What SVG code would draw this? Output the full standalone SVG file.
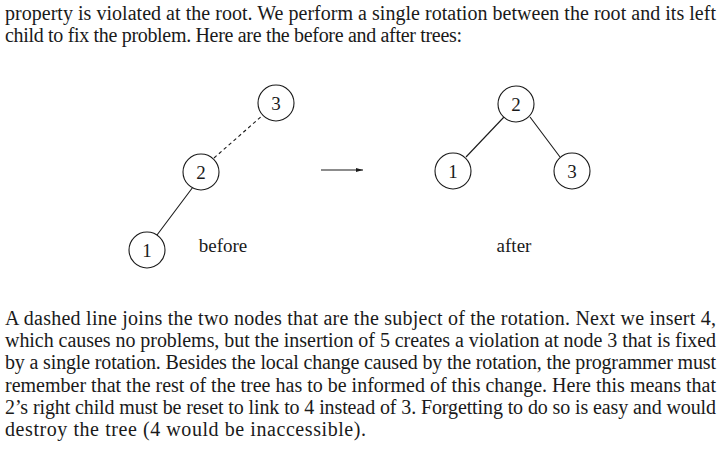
<svg xmlns="http://www.w3.org/2000/svg" width="721" height="464" viewBox="0 0 721 464">
<style>
  .t { font-family: "Liberation Serif", "Times New Roman", serif; font-size: 20px; fill: #1a1a1a; }
  .n { font-family: "Liberation Serif", "Times New Roman", serif; font-size: 19px; fill: #1a1a1a; text-anchor: middle; }
  .c { fill: #ffffff; stroke: #1a1a1a; stroke-width: 1.1; }
  .e { stroke: #1a1a1a; stroke-width: 1.1; fill: none; }
  .d { stroke-dasharray: 3.5 3; }
</style>
<defs>
  <marker id="ah" markerWidth="8" markerHeight="6" refX="7" refY="3" orient="auto" markerUnits="userSpaceOnUse">
    <path d="M0,1 L7,3 L0,5 Z" fill="#1a1a1a"/>
  </marker>
</defs>
<rect width="721" height="464" fill="#ffffff"/>
<g id="para1">
  <text class="t" x="5" y="20" textLength="711" lengthAdjust="spacing">property is violated at the root. We perform a single rotation between the root and its left</text>
  <text class="t" x="5" y="42" textLength="457" lengthAdjust="spacing">child to fix the problem. Here are the before and after trees:</text>
</g>
<g id="connectors">
  <line class="e" x1="193" y1="187" x2="157" y2="235"/>
  <line class="e d" x1="214" y1="158" x2="263" y2="115"/>
  <line class="e" x1="321" y1="170" x2="363" y2="170" marker-end="url(#ah)"/>
  <line class="e" x1="504" y1="117" x2="466" y2="157"/>
  <line class="e" x1="530" y1="117" x2="560" y2="157"/>
</g>
<g id="before-3"><circle class="c" cx="276" cy="103" r="18"/><text class="n" x="276" y="109.5">3</text></g>
<g id="before-2"><circle class="c" cx="201" cy="172" r="18"/><text class="n" x="201" y="178.5">2</text></g>
<g id="before-1"><circle class="c" cx="147" cy="250" r="18"/><text class="n" x="147" y="256.5">1</text></g>
<g id="label-before"><text class="n" x="223" y="252">before</text></g>
<g id="after-2"><circle class="c" cx="516" cy="104" r="18"/><text class="n" x="516" y="110.5">2</text></g>
<g id="after-1"><circle class="c" cx="453" cy="171" r="18"/><text class="n" x="453" y="177.5">1</text></g>
<g id="after-3"><circle class="c" cx="572" cy="171" r="18"/><text class="n" x="572" y="177.5">3</text></g>
<g id="label-after"><text class="n" x="514" y="252">after</text></g>
<g id="para2">
  <text class="t" x="5" y="325" textLength="711" lengthAdjust="spacing">A dashed line joins the two nodes that are the subject of the rotation. Next we insert 4,</text>
  <text class="t" x="5" y="347.2" textLength="711" lengthAdjust="spacing">which causes no problems, but the insertion of 5 creates a violation at node 3 that is fixed</text>
  <text class="t" x="5" y="369.4" textLength="711" lengthAdjust="spacing">by a single rotation. Besides the local change caused by the rotation, the programmer must</text>
  <text class="t" x="5" y="391.6" textLength="711" lengthAdjust="spacing">remember that the rest of the tree has to be informed of this change. Here this means that</text>
  <text class="t" x="5" y="413.8" textLength="711" lengthAdjust="spacing">2’s right child must be reset to link to 4 instead of 3. Forgetting to do so is easy and would</text>
  <text class="t" x="5" y="436" textLength="361" lengthAdjust="spacing">destroy the tree (4 would be inaccessible).</text>
</g>
</svg>
